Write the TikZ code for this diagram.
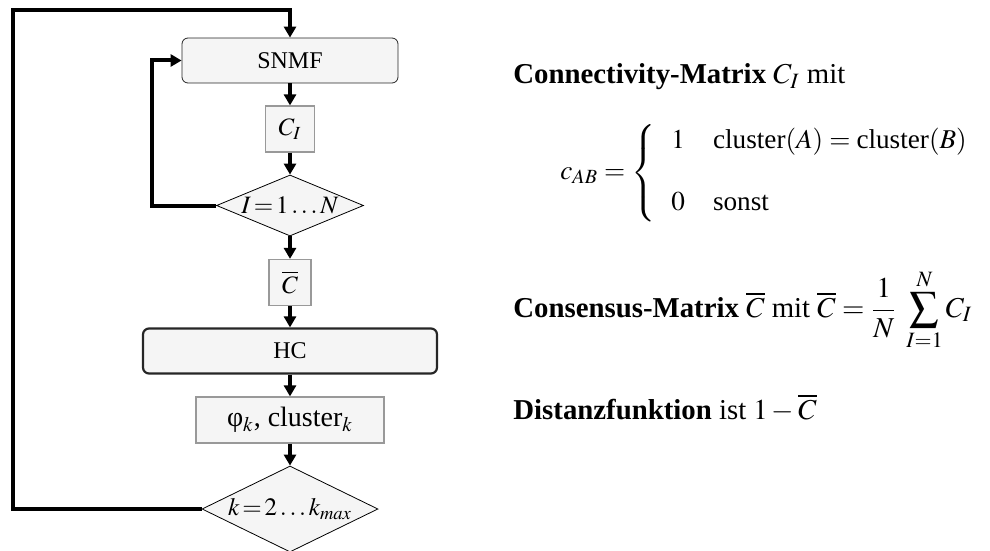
\documentclass[tikz,border=0pt]{standalone}
\usepackage{amsmath}
\usepackage{mathptmx}
\usepackage{fontspec}
\setmainfont{Liberation Serif}
\usetikzlibrary{shapes,arrows,arrows.meta}
\usetikzlibrary{positioning}

\tikzset{
    prozess/.style={draw=black!85, rounded corners=3pt, fill=black!4,
        minimum width=108pt, minimum height=22.5pt, inner sep=0pt,
        font=\fontsize{12}{14}\selectfont},
    daten/.style={draw=black!40, line width=.6pt, fill=black!4,
        minimum height=23pt, inner sep=0pt, font=\fontsize{12.5}{15}\selectfont},
    entscheid/.style={diamond, draw=black, fill=black!4, inner sep=0pt},
    pfeil/.style={line width=2pt, -{Triangle[length=5.5pt,width=6pt]}},
    schrift/.style={font=\fontsize{12.5}{15}\selectfont}
}

\begin{document}
\begin{tikzpicture}[x=0.5pt,y=-0.5pt]
    \useasboundingbox (0,0) rectangle (990,551);
    % Ablauf
    \node[prozess] (snmf) at (290,60.5) {SNMF};
    \node[daten, minimum width=24.5pt] (ci) at (290,129) {$C_I$};
    \node[entscheid, minimum width=73.5pt, minimum height=30.5pt] (schleifeI) at (290,205.5) {};
    \node[schrift] (schleifeItxt) at (schleifeI) {$I\!=\!1\ldots N$};
    \node[daten, minimum width=21pt] (cquer) at (290,282.5) {$\overline{C}$};
    \node[prozess, line width=1.1pt, minimum width=147pt] (hc) at (290,351) {HC};
    \node[daten, minimum width=94pt, font=\fontsize{14}{16}\selectfont] (phi) at (290,420) {φ$_k$, cluster$_k$};
    \node[entscheid, minimum width=88pt, minimum height=43pt] (schleifek) at (290,509) {};
    \node[schrift] (schleifektxt) at (schleifek) {$k\!=\!2\ldots k_{max}$};

    \coordinate (innen) at (152,60.5);
    \coordinate (aussen) at (13,10);

    \draw[pfeil] (snmf) -- (ci);
    \draw[pfeil] (ci) -- (schleifeI);
    \draw[pfeil] (schleifeI) -- (cquer);
    \draw[pfeil] (cquer) -- (hc);
    \draw[pfeil] (hc) -- (phi);
    \draw[pfeil] (phi) -- (schleifek);
    \draw[pfeil] (schleifeI.west) -| (innen) -- (snmf.west);
    \draw[pfeil] (schleifek.west) -| (aussen) -| (snmf.north);

    % Erklaerungen
    \begin{scope}[every node/.style={anchor=west, inner sep=0pt, font=\fontsize{14.4}{17}\selectfont}]
        \node (conn) at (513,77) {\textbf{Connectivity-Matrix} $C_I$ mit};
        \node[font=\fontsize{13.6}{16}\selectfont] (cab) at (560,173) {$c_{AB} = \left\{\begin{array}{@{\hspace{8pt}}l@{\hspace{14pt}}l}
            1 & \mbox{cluster}(A) = \mbox{cluster}(B)\\[15pt]
            0 & \mbox{sonst}
            \end{array}\right.$};
        \node (cons) at (513,310) {\textbf{Consensus-Matrix} $\overline{C}$ mit $\displaystyle\overline{C} = \frac{1}{N}\;\sum_{I=1}^{N} C_I$};
        \node (dist) at (513,408) {\textbf{Distanzfunktion} ist $1-\overline{C}$};
    \end{scope}
\end{tikzpicture}
\end{document}
